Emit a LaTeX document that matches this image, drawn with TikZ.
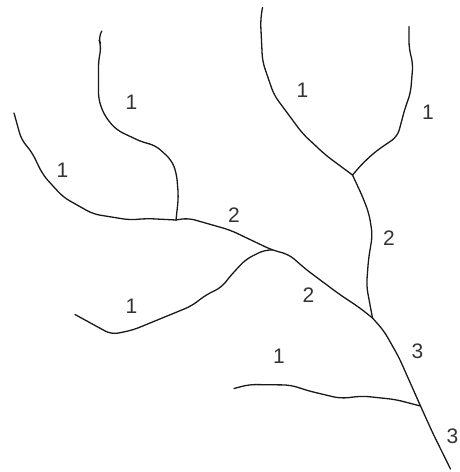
\documentclass[tikz,border=0pt]{standalone}
\usepackage{fontspec}
\setmainfont{Liberation Sans}
\tikzset{stream/.style={line width=1.3pt,black!90,line join=round,line cap=round,rounded corners=7pt},
order/.style={font=\fontsize{21}{23}\selectfont,inner sep=0pt,text=black!80}}
\begin{document}
\begin{tikzpicture}[x=1pt,y=-1pt]
\useasboundingbox (0,0) rectangle (459,472);
\coordinate (j1) at (176,220);
\coordinate (j2) at (272,250);
\coordinate (j3) at (352.5,175);
\coordinate (j4) at (372.5,318);
\coordinate (j5) at (420.5,406);
\draw[stream] (101.5,31.5) -- (98,37) -- (101.5,46.5) -- (98.5,60) -- (98.5,100) -- (105,116.5) -- (116.5,130) -- (143,142.5) -- (155,145) -- (171.5,160) -- (176.5,173) -- (178.5,197) -- (j1);
\draw[stream] (14,113) -- (21.5,140) -- (31.5,151.5) -- (43,175) -- (63,197) -- (93,214) -- (130,220) -- (146.5,218.5) -- (j1);
\draw[stream] (j1) -- (188,218) -- (230,230) -- (j2) -- (289,254.5) -- (305.5,269) -- (339,294) -- (360,308) -- (j4);
\draw[stream] (75,314.5) -- (111.5,334.5) -- (133,330) -- (191.5,306) -- (206.5,294.5) -- (221.5,287.5) -- (229,277.5) -- (245.5,259.5) -- (265.5,249.5) -- (j2);
\draw[stream] (262.5,7.5) -- (260.5,20) -- (262.5,61.5) -- (274,95) -- (302.5,133.5) -- (325.5,155) -- (j3);
\draw[stream] (409,26.5) -- (409,48.5) -- (413,63.5) -- (410.5,93.5) -- (405.5,106.5) -- (397.5,136.5) -- (375.5,151.5) -- (362.5,163.5) -- (j3);
\draw[stream] (j3) -- (362.5,196.5) -- (369,213.5) -- (372.5,235) -- (368.5,259) -- (366.5,286) -- (j4);
\draw[stream] (j4) -- (384,331) -- (399,357.5) -- (j5) -- (432.5,432.5) -- (450.5,469);
\draw[stream] (234,388.5) -- (249,384.5) -- (290.5,385) -- (309,391) -- (340.5,398.5) -- (362.5,396) -- (395.5,399.5) -- (j5);
\node[order] (a) at (131.5,102) {1};
\node[order] (b) at (62.5,170.5) {1};
\node[order] (c) at (302.5,90.5) {1};
\node[order] (d) at (428,112.5) {1};
\node[order] (e) at (234,215) {2};
\node[order] (f) at (389,238) {2};
\node[order] (g) at (308.5,295) {2};
\node[order] (h) at (131.5,306.5) {1};
\node[order] (i) at (279,356.5) {1};
\node[order] (k) at (417.5,351) {3};
\node[order] (l) at (452.5,436) {3};
\end{tikzpicture}
\end{document}
